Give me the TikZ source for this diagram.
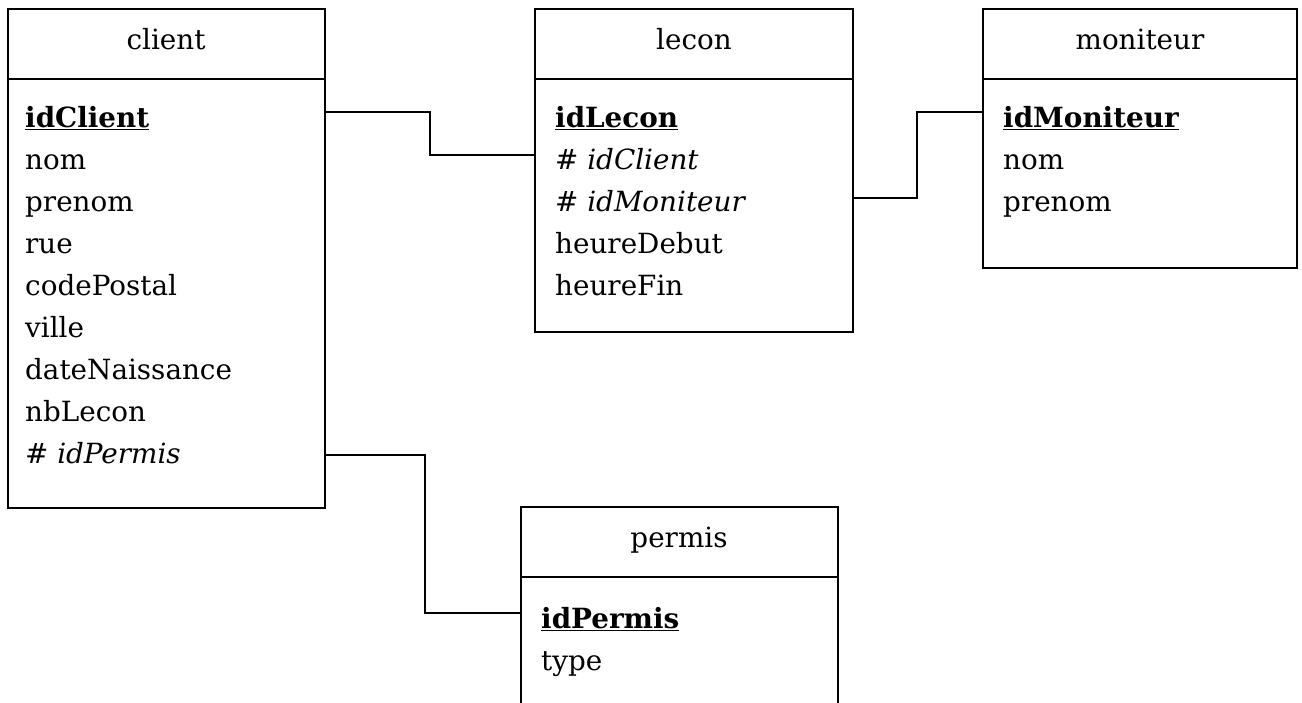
\documentclass[tikz,border=0pt]{standalone}
\usepackage{fontspec}
\setmainfont{DejaVu Serif}
\begin{document}
\begin{tikzpicture}[x=1pt,y=-1pt,
  box/.style={draw=black,line width=2pt,anchor=north west,inner sep=0pt,outer sep=0pt},
  attr/.style={anchor=base west,inner sep=0pt,font=\fontsize{27.8}{32}\selectfont},
  head/.style={font=\fontsize{27.8}{32}\selectfont,inner sep=0pt,anchor=base},
  conn/.style={draw=black,line width=1.7pt}]
\useasboundingbox[fill=white] (0,0) rectangle (1302,702);
\newcommand{\pk}[1]{\underline{\textbf{#1}}}
% client
\node[box,minimum width=317pt,minimum height=70pt] (clientH) at (8,9) {};
\node[box,minimum width=317pt,minimum height=429pt] (clientB) at (8,79) {};
\node[head] (clientT) at (166,49) {client};
\node[attr] (c1) at (25,127) {\pk{idClient}};
\node[attr] (c2) at (25,169) {nom};
\node[attr] (c3) at (25,211) {prenom};
\node[attr] (c4) at (25,253) {rue};
\node[attr] (c5) at (25,295) {codePostal};
\node[attr] (c6) at (25,337) {ville};
\node[attr] (c7) at (25,379) {dateNaissance};
\node[attr] (c8) at (25,421) {nbLecon};
\node[attr] (c9) at (25,463) {\textit{\# idPermis}};
% lecon
\node[box,minimum width=318pt,minimum height=70pt] (leconH) at (535,9) {};
\node[box,minimum width=318pt,minimum height=253pt] (leconB) at (535,79) {};
\node[head] (leconT) at (694,49) {lecon};
\node[attr] (l1) at (555,127) {\pk{idLecon}};
\node[attr] (l2) at (555,169) {\textit{\# idClient}};
\node[attr] (l3) at (555,211) {\textit{\# idMoniteur}};
\node[attr] (l4) at (555,253) {heureDebut};
\node[attr] (l5) at (555,295) {heureFin};
% moniteur
\node[box,minimum width=314pt,minimum height=70pt] (monH) at (983,9) {};
\node[box,minimum width=314pt,minimum height=189pt] (monB) at (983,79) {};
\node[head] (monT) at (1140,49) {moniteur};
\node[attr] (m1) at (1003,127) {\pk{idMoniteur}};
\node[attr] (m2) at (1003,169) {nom};
\node[attr] (m3) at (1003,211) {prenom};
% permis
\node[box,minimum width=317pt,minimum height=70pt] (perH) at (521,507) {};
\node[box,minimum width=317pt,minimum height=160pt] (perB) at (521,577) {};
\node[head] (perT) at (679,547) {permis};
\node[attr] (p1) at (541,628) {\pk{idPermis}};
\node[attr] (p2) at (541,670) {type};
% connectors
\coordinate (k1) at (430,112);
\coordinate (k2) at (917,198);
\coordinate (k3) at (425,455);
\draw[conn] (clientB.east |- k1) -- (k1) |- (leconB.west |- 0,155);
\draw[conn] (leconB.east |- k2) -- (k2) |- (monB.west |- 0,112);
\draw[conn] (clientB.east |- k3) -- (k3) |- (perB.west |- 0,613);
\end{tikzpicture}
\end{document}
